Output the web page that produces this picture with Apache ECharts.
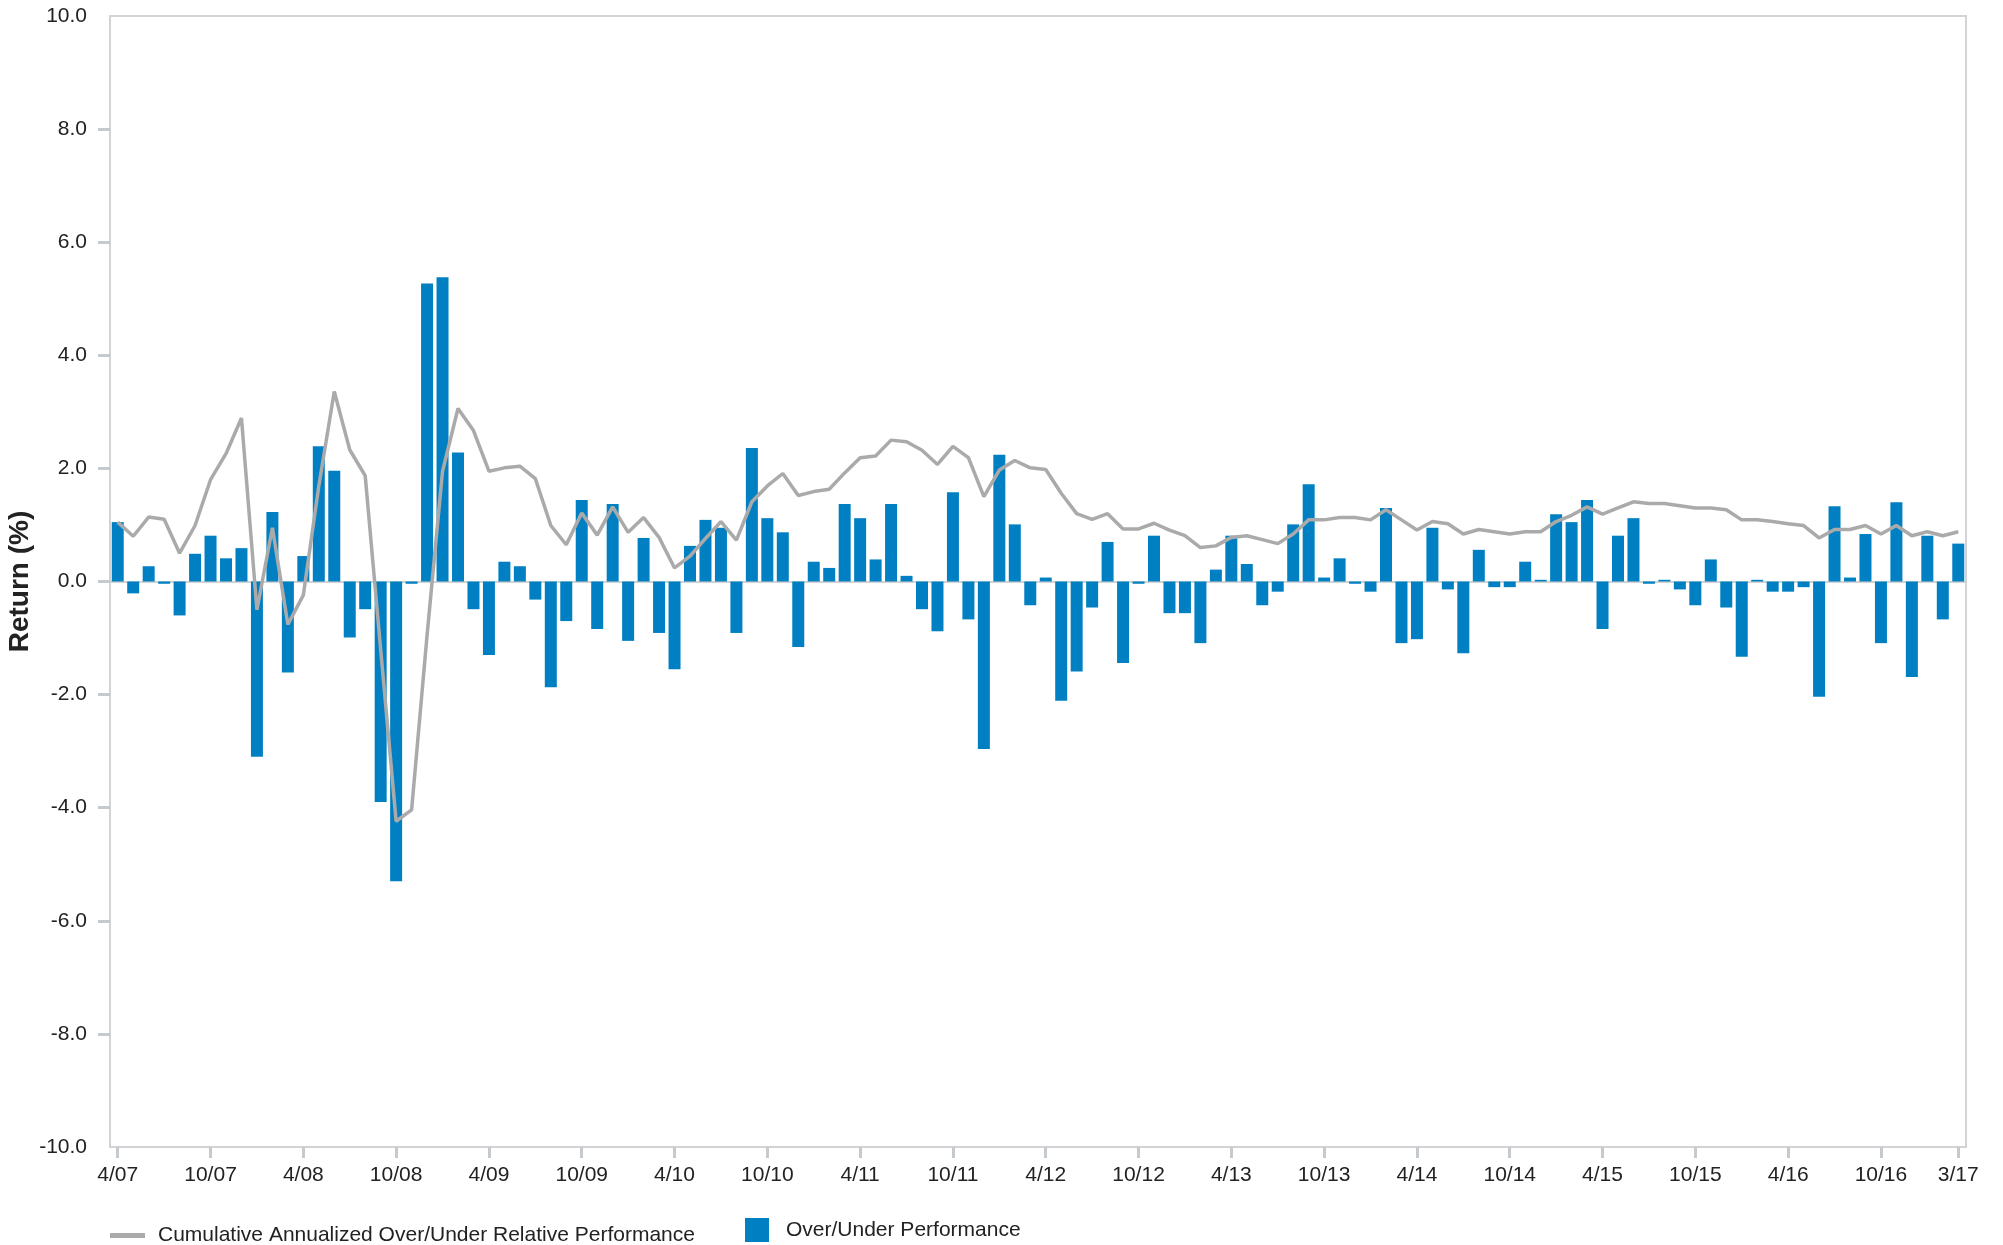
<!DOCTYPE html>
<html>
<head>
<meta charset="utf-8">
<script src="https://cdn.jsdelivr.net/npm/echarts@6/dist/echarts.min.js"></script>
<style>
html,body{margin:0;padding:0;background:#fff;}
#chart{width:2003px;height:1245px;}
</style>
</head>
<body>
<div id="chart"></div>
<script>
const categories = [
"4/07","5/07","6/07","7/07","8/07","9/07","10/07","11/07","12/07","1/08","2/08","3/08",
"4/08","5/08","6/08","7/08","8/08","9/08","10/08","11/08","12/08","1/09","2/09","3/09",
"4/09","5/09","6/09","7/09","8/09","9/09","10/09","11/09","12/09","1/10","2/10","3/10",
"4/10","5/10","6/10","7/10","8/10","9/10","10/10","11/10","12/10","1/11","2/11","3/11",
"4/11","5/11","6/11","7/11","8/11","9/11","10/11","11/11","12/11","1/12","2/12","3/12",
"4/12","5/12","6/12","7/12","8/12","9/12","10/12","11/12","12/12","1/13","2/13","3/13",
"4/13","5/13","6/13","7/13","8/13","9/13","10/13","11/13","12/13","1/14","2/14","3/14",
"4/14","5/14","6/14","7/14","8/14","9/14","10/14","11/14","12/14","1/15","2/15","3/15",
"4/15","5/15","6/15","7/15","8/15","9/15","10/15","11/15","12/15","1/16","2/16","3/16",
"4/16","5/16","6/16","7/16","8/16","9/16","10/16","11/16","12/16","1/17","2/17","3/17"
];

const overUnder = [
1.05,-0.21,0.27,-0.04,-0.60,0.49,0.81,0.41,0.59,-3.10,1.23,-1.61,
0.45,2.39,1.96,-0.99,-0.49,-3.90,-5.30,-0.04,5.27,5.38,2.28,-0.49,
-1.30,0.35,0.27,-0.32,-1.87,-0.70,1.44,-0.84,1.37,-1.05,0.77,-0.91,
-1.55,0.63,1.09,0.95,-0.91,2.36,1.12,0.87,-1.16,0.35,0.24,1.37,
1.12,0.39,1.37,0.10,-0.49,-0.88,1.58,-0.67,-2.96,2.24,1.01,-0.42,
0.07,-2.11,-1.59,-0.46,0.70,-1.44,-0.04,0.81,-0.56,-0.56,-1.09,0.21,
0.81,0.31,-0.42,-0.18,1.01,1.72,0.07,0.41,-0.04,-0.18,1.30,-1.09,
-1.02,0.95,-0.14,-1.27,0.56,-0.10,-0.10,0.35,0.03,1.19,1.05,1.44,
-0.84,0.81,1.12,-0.04,0.03,-0.14,-0.42,0.39,-0.46,-1.33,0.03,-0.18,
-0.18,-0.10,-2.04,1.33,0.07,0.84,-1.09,1.40,-1.69,0.81,-0.67,0.67
];

const cumulative = [
1.05,0.80,1.14,1.10,0.50,0.99,1.80,2.26,2.89,-0.50,0.95,-0.76,
-0.24,1.69,3.36,2.33,1.87,-1.20,-4.24,-4.04,-0.95,1.95,3.06,2.67,
1.95,2.01,2.04,1.82,0.99,0.65,1.21,0.82,1.32,0.87,1.13,0.78,
0.24,0.45,0.76,1.06,0.73,1.41,1.69,1.91,1.52,1.59,1.63,1.92,
2.19,2.22,2.50,2.47,2.32,2.07,2.39,2.19,1.50,1.97,2.14,2.01,
1.98,1.56,1.20,1.10,1.20,0.93,0.93,1.03,0.91,0.81,0.60,0.63,
0.78,0.81,0.74,0.67,0.84,1.09,1.09,1.13,1.13,1.09,1.27,1.09,
0.91,1.06,1.02,0.84,0.92,0.88,0.84,0.88,0.88,1.06,1.17,1.32,
1.19,1.30,1.41,1.38,1.38,1.34,1.30,1.30,1.27,1.09,1.09,1.06,
1.02,0.99,0.77,0.92,0.92,0.99,0.84,0.99,0.81,0.88,0.81,0.88
];

const yTicks = [-8,-6,-4,-2,0,2,4,6,8];
const lineName = "Cumulative Annualized Over/Under Relative Performance";
const barName = "Over/Under Performance";

const FONT = "'Liberation Sans', Arial, Helvetica, sans-serif";
const lastIdx = categories.length - 1;
const showIdx = (i) => i % 6 === 0 || i === lastIdx;

const chart = echarts.init(document.getElementById('chart'), null, {renderer:'canvas'});
chart.setOption({
  animation: false,
  textStyle: {fontFamily: FONT},
  grid: {left:110, right:37, top:16, bottom:98, containLabel:false, outerBoundsMode:'none',
         show:true, borderColor:'#d3d3d3', borderWidth:2, backgroundColor:'transparent'},
  legend: [
    {
      left: 110, top: 1225, padding: 0, itemWidth: 35, itemHeight: 5, itemGap: 0,
      data: [{name: lineName, icon: 'rect', itemStyle: {color:'#aaaaaa', borderWidth:0}}],
      textStyle: {fontFamily: FONT, fontSize: 21, color:'#222', padding:[0,0,0,8]}
    },
    {
      left: 745, top: 1218, padding: 0, itemWidth: 24, itemHeight: 24, itemGap: 0,
      data: [{name: barName, icon: 'rect'}],
      textStyle: {fontFamily: FONT, fontSize: 21, color:'#222', padding:[0,0,0,12]}
    }
  ],
  xAxis: [
    {
      type: 'category', data: categories, boundaryGap: true, position: 'bottom',
      axisLine: {onZero:false, show:true, lineStyle:{color:'#d3d3d3', width:2}},
      axisTick: {show:true, alignWithLabel:true, interval: showIdx, length: 11, lineStyle:{color:'#c5cad0', width:3}},
      axisLabel: {interval: showIdx, fontFamily: FONT, fontSize: 21, color:'#222', margin: 18},
      splitLine: {show:false}
    },
    {
      type: 'category', data: categories, boundaryGap: true, position: 'bottom',
      axisLine: {onZero:true, show:true, lineStyle:{color:'#d3d3d3', width:2}},
      axisTick: {show:false}, axisLabel: {show:false}, splitLine:{show:false}
    }
  ],
  yAxis: {
    type: 'value', min: -10, max: 10, interval: 2,
    name: 'Return (%)', nameLocation: 'middle', nameGap: 76, nameMoveOverlap: false,
    nameTextStyle: {fontFamily: FONT, fontSize: 28, fontWeight: 'bold', color:'#222'},
    axisLine: {show:true, lineStyle:{color:'#d3d3d3', width:2}},
    axisTick: {show:true, length: 12, customValues: yTicks, lineStyle:{color:'#c5cad0', width:3}},
    axisLabel: {fontFamily: FONT, fontSize: 21, color:'#222', margin: 23, formatter: (v) => v.toFixed(1)},
    splitLine: {show:false}
  },
  series: [
    {
      name: barName, type: 'bar', data: overUnder, barWidth: 12,
      itemStyle: {color:'#0080c2'}, z: 2
    },
    {
      name: lineName, type: 'line', data: cumulative, symbol: 'none', smooth: false,
      lineStyle: {color:'#aaaaaa', width: 3.5}, itemStyle:{color:'#aaaaaa'}, z: 3
    }
  ]
});
</script>
</body>
</html>
